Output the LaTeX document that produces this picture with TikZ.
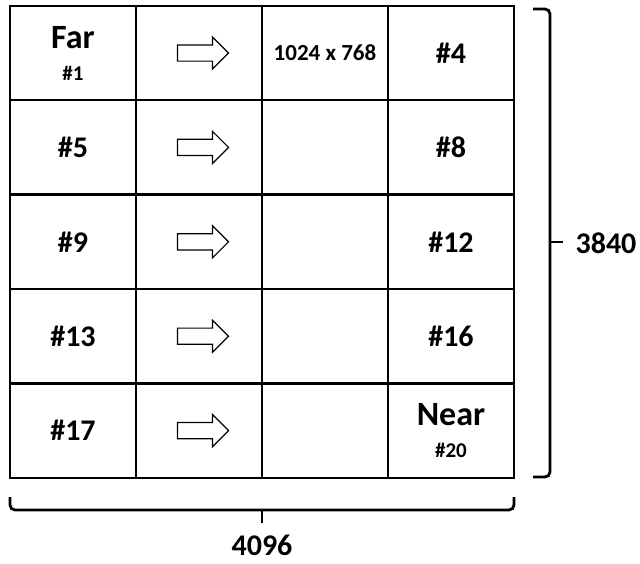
\documentclass[tikz,border=0pt]{standalone}
\usepackage{fontspec}
\setmainfont{Carlito}
\usetikzlibrary{shapes.arrows}

\begin{document}
\begin{tikzpicture}[x=1pt,y=-1pt,
 cell/.style={draw,line width=2.4pt,minimum width=126pt,minimum height=94.4pt,
 inner sep=0pt,align=center,font=\bfseries\fontsize{30}{32}\selectfont},
 fatarrow/.style={single arrow,draw,line width=1.2pt,minimum height=51pt,
 single arrow head extend=8pt,inner xsep=0pt,inner ysep=7.5pt},
 brace/.style={line width=2.8pt,rounded corners=5pt},
 dim/.style={inner sep=0pt,font=\bfseries\fontsize{30}{32}\selectfont}]
\useasboundingbox (0,0) rectangle (640,563);
% 5 x 4 grid of tiles
\foreach \r/\first/\last in {%
 1/{\fontsize{34}{35}\selectfont Far\\\fontsize{21}{22}\selectfont\#1}/\#4,
 2/\#5/\#8, 3/\#9/\#12, 4/\#13/\#16,
 5/\#17/{\fontsize{34}{35}\selectfont Near\\\fontsize{21}{22}\selectfont\#20}}{
 \node[cell] (c\r1) at (73,{53+94.4*(\r-1)}) {\first};
 \node[cell] (c\r2) at (199,{53+94.4*(\r-1)}) {};
 \node[cell] (c\r3) at (325,{53+94.4*(\r-1)}) {};
 \node[cell] (c\r4) at (451,{53+94.4*(\r-1)}) {\last};
 \node[fatarrow] (a\r) at (c\r2) {};
}
\node[font=\bfseries\fontsize{23}{24}\selectfont] (res) at (c13) {1024 x 768};
% braces
\draw[brace] (533,9) -- (550,9) -- (550,477) -- (533,477);
\draw[line width=2.8pt] (550,242) -- (563,242);
\node[dim] (h) at (606,243) {3840};
\draw[brace] (10,497) -- (10,510) -- (514,510) -- (514,497);
\draw[line width=2.8pt] (262,510) -- (262,523);
\node[dim] (w) at (262,545) {4096};
\end{tikzpicture}
\end{document}
